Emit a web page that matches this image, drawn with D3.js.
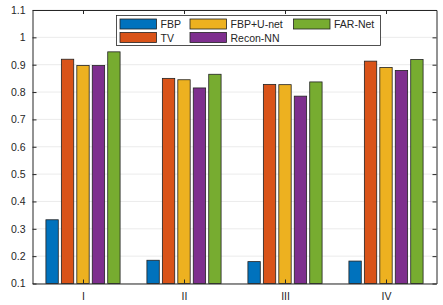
<!DOCTYPE html>
<html>
<head>
<meta charset="utf-8">
<script src="https://cdn.jsdelivr.net/npm/d3@7"></script>
<style>
  body { margin: 0; background: #fff; }
  svg text { font-family: "Liberation Sans", Arial, sans-serif; fill: #262626; }
</style>
</head>
<body>
<svg id="chart"></svg>
<script>
// === Data ===
const groups = ["I", "II", "III", "IV"];
const methods = ["FBP", "TV", "FBP+U-net", "Recon-NN", "FAR-Net"];
const colors = ["#0072BD", "#D95319", "#EDB120", "#7E2F8E", "#77AC30"];
const fbp = [0.333, 0.185, 0.180, 0.182];
const tv = [0.920, 0.850, 0.828, 0.913];
const unet = [0.897, 0.845, 0.827, 0.890];
const recon = [0.897, 0.815, 0.785, 0.879];
const farnet = [0.947, 0.865, 0.837, 0.919];
const yTicks = [0.1, 0.2, 0.3, 0.4, 0.5, 0.6, 0.7, 0.8, 0.9, 1, 1.1];

const series = [fbp, tv, unet, recon, farnet];

const svg = d3.select("#chart").attr("width", 443).attr("height", 305);
const margin = { top: 10, right: 6.5, bottom: 21.5, left: 32.5 };
const width = 443 - margin.left - margin.right;
const height = 305 - margin.top - margin.bottom;
const g = svg.append("g").attr("transform", `translate(${margin.left},${margin.top})`);

const x = d3.scaleLinear().domain([0.5, 4.5]).range([0, width]);
const y = d3.scaleLinear().domain([0.1, 1.1]).range([height, 0]);
const unit = x(2) - x(1);
const step = unit * 0.153;
const barW = step * 0.8;

// grid
g.selectAll(".grid").data(yTicks).enter().append("line")
  .attr("x1", 0).attr("x2", width)
  .attr("y1", d => y(d)).attr("y2", d => y(d))
  .attr("stroke", "#ebebeb").attr("stroke-width", 1);

// bars
series.forEach((vals, si) => {
  g.selectAll(".bar" + si).data(vals).enter().append("rect")
    .attr("x", (d, i) => x(i + 1) + (si - 2) * step - barW / 2)
    .attr("y", d => y(d))
    .attr("width", barW)
    .attr("height", d => height - y(d))
    .attr("fill", colors[si])
    .attr("stroke", "#222").attr("stroke-width", 0.8);
});

// axes
const yAxisL = d3.axisLeft(y).tickValues(yTicks).tickSizeInner(-4).tickSizeOuter(0).tickPadding(7).tickFormat(d3.format("~g"));
const yAxisR = d3.axisRight(y).tickValues(yTicks).tickSizeInner(-4).tickSizeOuter(0).tickFormat("");
const xAxisB = d3.axisBottom(x).tickValues([1, 2, 3, 4]).tickSizeInner(-4).tickSizeOuter(0).tickPadding(9).tickFormat((d, i) => groups[i]);
const xAxisT = d3.axisTop(x).tickValues([1, 2, 3, 4]).tickSizeInner(-4).tickSizeOuter(0).tickFormat("");

g.append("g").call(yAxisL);
g.append("g").attr("transform", `translate(${width},0)`).call(yAxisR);
g.append("g").attr("transform", `translate(0,${height})`).call(xAxisB);
g.append("g").call(xAxisT);

g.selectAll(".domain, .tick line").attr("stroke", "#262626");
g.selectAll(".tick text").style("font-size", "10.5px");

// legend
const legend = svg.append("g");
legend.append("rect").attr("x", 116.5).attr("y", 15.5).attr("width", 264).attr("height", 30)
  .attr("fill", "#fff").attr("stroke", "#262626").attr("stroke-width", 0.8);
const legCols = [[0, 2, 4], [1, 3]];
const colX = [120, 190, 293.5];
const rowY = [19, 32.5];
legCols.forEach((row, ri) => {
  row.forEach((mi, ci) => {
    legend.append("rect").attr("x", colX[ci]).attr("y", rowY[ri]).attr("width", 36.5).attr("height", 10)
      .attr("fill", colors[mi]).attr("stroke", "#222").attr("stroke-width", 0.8);
    legend.append("text").attr("x", colX[ci] + 40.5).attr("y", rowY[ri] + 9)
      .style("font-size", "10.5px").text(methods[mi]);
  });
});
</script>
</body>
</html>
